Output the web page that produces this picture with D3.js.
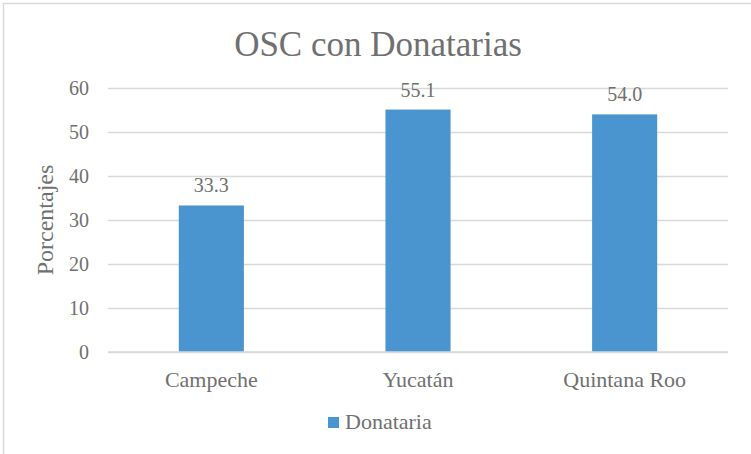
<!DOCTYPE html>
<html>
<head>
<meta charset="utf-8">
<script src="https://cdn.jsdelivr.net/npm/d3@7"></script>
<style>
  body { margin: 0; background: #fff; }
  .grid line { stroke: #d9d9d9; stroke-width: 1.3; }
  .grid path { display: none; }
</style>
</head>
<body>
<svg id="chart" width="751" height="454"></svg>
<script>
var categories = ["Campeche", "Yucatán", "Quintana Roo"];
var values = [33.3, 55.1, 54.0];
var yTicks = [0, 10, 20, 30, 40, 50, 60];
var seriesName = "Donataria";
var chartTitle = "OSC con Donatarias";
var yLabel = "Porcentajes";

var fontFamily = "'Liberation Serif'";
var textColor = "#707070";

var svg = d3.select("#chart");
var margin = {top: 88, right: 23, bottom: 102, left: 108},
    width = 751 - margin.left - margin.right,
    height = 454 - margin.top - margin.bottom;

// outer frame (only top/left visible in the crop)
svg.append("path")
    .attr("d", "M3.5,454 V3.5 H751")
    .attr("fill", "none")
    .attr("stroke", "#d9d9d9")
    .attr("stroke-width", 1.5);

var g = svg.append("g")
    .attr("transform", "translate(" + margin.left + "," + margin.top + ")");

var x = d3.scaleBand()
    .domain(categories)
    .range([0, width])
    .paddingInner(0.685)
    .paddingOuter(0.3425);

var y = d3.scaleLinear()
    .domain([0, 60])
    .range([height, 0]);

// gridlines
g.append("g")
    .attr("class", "grid")
    .call(d3.axisLeft(y).tickValues(yTicks).tickSize(-width).tickFormat(""));

function styled(sel, size) {
    return sel.style("font-family", fontFamily)
        .style("font-size", size + "px")
        .style("fill", textColor);
}

// y tick labels
styled(g.selectAll(".ytick")
    .data(yTicks)
    .enter()
    .append("text")
    .attr("class", "ytick")
    .attr("x", -19)
    .attr("y", function(d) { return y(d); })
    .attr("dy", "0.34em")
    .attr("text-anchor", "end")
    .text(function(d) { return d; }), 20);

// bars
g.selectAll(".bar")
    .data(values)
    .enter()
    .append("rect")
    .attr("class", "bar")
    .attr("x", function(d, i) { return x(categories[i]); })
    .attr("y", function(d) { return y(d); })
    .attr("width", x.bandwidth())
    .attr("height", function(d) { return height - y(d); })
    .attr("fill", "#4a94cf");

// data labels
styled(g.selectAll(".lbl")
    .data(values)
    .enter()
    .append("text")
    .attr("class", "lbl")
    .attr("x", function(d, i) { return x(categories[i]) + x.bandwidth() / 2; })
    .attr("y", function(d) { return y(d) - 13; })
    .attr("text-anchor", "middle")
    .text(function(d) { return d.toFixed(1); }), 20);

// x axis baseline
g.append("line")
    .attr("x1", 0).attr("x2", width)
    .attr("y1", height).attr("y2", height)
    .attr("stroke", "#d9d9d9")
    .attr("stroke-width", 1.3);

// category labels
styled(g.selectAll(".xlbl")
    .data(categories)
    .enter()
    .append("text")
    .attr("class", "xlbl")
    .attr("x", function(d) { return x(d) + x.bandwidth() / 2; })
    .attr("y", height + 35)
    .attr("text-anchor", "middle")
    .text(function(d) { return d; }), 22);

// title
styled(svg.append("text")
    .attr("x", 378)
    .attr("y", 56)
    .attr("text-anchor", "middle")
    .text(chartTitle), 35);

// y axis label
styled(svg.append("text")
    .attr("transform", "translate(53," + (margin.top + height / 2) + ") rotate(-90)")
    .attr("text-anchor", "middle")
    .text(yLabel), 24);

// legend
var legend = svg.append("g").attr("transform", "translate(328,417)");
legend.append("rect")
    .attr("width", 11).attr("height", 11)
    .attr("fill", "#4a94cf");
styled(legend.append("text")
    .attr("x", 17)
    .attr("y", 12)
    .text(seriesName), 22);
</script>
</body>
</html>
